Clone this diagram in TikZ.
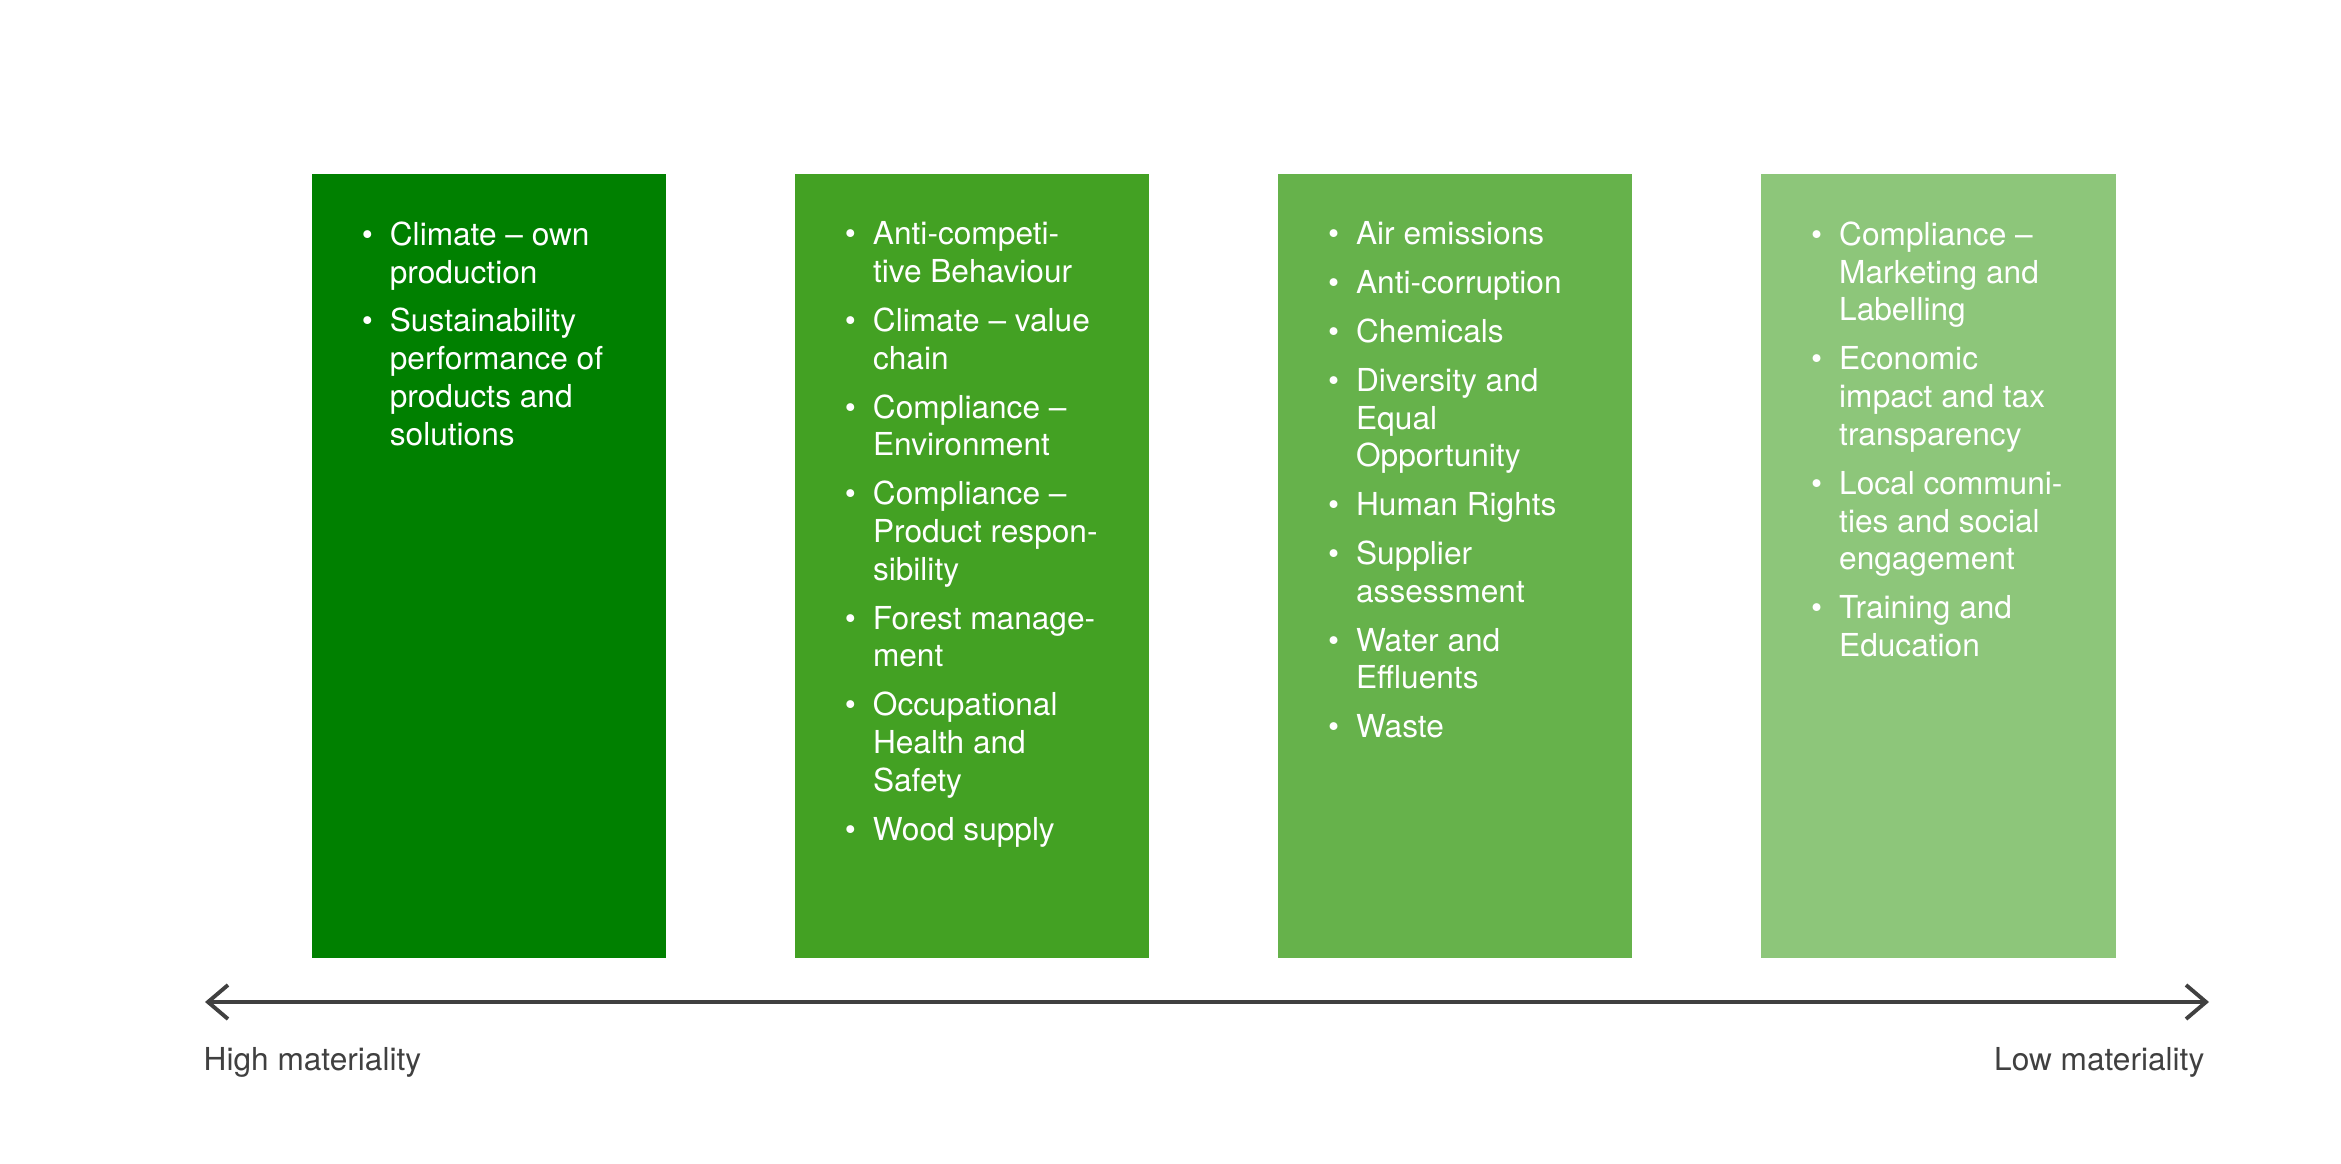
\documentclass[tikz,border=0pt]{standalone}
\usepackage{fontspec}
\setmainfont{TeX Gyre Heros}
\usepackage{tikz}
\usetikzlibrary{arrows.meta, positioning}
\definecolor{GreenA}{HTML}{008000}
\definecolor{GreenB}{HTML}{43A123}
\definecolor{GreenC}{HTML}{66B24B}
\definecolor{GreenD}{HTML}{8DC67A}
\definecolor{AxisGray}{HTML}{404040}
\newcommand{\bul}{\llap{\textbullet\hspace{0.17cm}}}

\begin{document}
\begin{tikzpicture}[
    node distance=1.286cm,
    box/.style={minimum width=3.545cm, minimum height=7.84cm, inner sep=0pt, outer sep=0pt},
    items/.style={anchor=north west, inner sep=0pt, align=left, text=white, font=\fontsize{9}{10.76}\selectfont},
    axislabel/.style={inner sep=0pt, text=AxisGray, font=\fontsize{9}{10.76}\selectfont},
    axis/.style={{Straight Barb[length=2mm, width=3.4mm]}-{Straight Barb[length=2mm, width=3.4mm]}, line width=1.1pt, draw=AxisGray}
]
    \useasboundingbox (0,0) rectangle (23.41,11.63);
    % materiality boxes
    \node[box, fill=GreenA, anchor=north west] (high) at (3.117,9.89) {};
    \node[box, fill=GreenB, right=of high] (midhigh) {};
    \node[box, fill=GreenC, right=of midhigh] (midlow) {};
    \node[box, fill=GreenD, right=of midlow] (low) {};

    \node[items, below right=0.47cm and 0.775cm of high.north west] (hightxt)
        {\bul Climate -- own\\production\\[0.11cm]
         \bul Sustainability\\performance of\\products and\\solutions};
    \node[items, below right=0.47cm and 0.775cm of midhigh.north west] (midhightxt)
        {\bul Anti-competi-\\tive Behaviour\\[0.11cm]
         \bul Climate -- value\\chain\\[0.11cm]
         \bul Compliance --\\Environment\\[0.11cm]
         \bul Compliance --\\Product respon-\\sibility\\[0.11cm]
         \bul Forest manage-\\ment\\[0.11cm]
         \bul Occupational\\Health and\\Safety\\[0.11cm]
         \bul Wood supply};
    \node[items, below right=0.47cm and 0.775cm of midlow.north west] (midlowtxt)
        {\bul Air emissions\\[0.11cm]
         \bul Anti-corruption\\[0.11cm]
         \bul Chemicals\\[0.11cm]
         \bul Diversity and\\Equal\\Opportunity\\[0.11cm]
         \bul Human Rights\\[0.11cm]
         \bul Supplier\\assessment\\[0.11cm]
         \bul Water and\\Effluents\\[0.11cm]
         \bul Waste};
    \node[items, below right=0.47cm and 0.775cm of low.north west] (lowtxt)
        {\bul Compliance --\\Marketing and\\Labelling\\[0.11cm]
         \bul Economic\\impact and tax\\transparency\\[0.11cm]
         \bul Local communi-\\ties and social\\engagement\\[0.11cm]
         \bul Training and\\Education};

    % materiality axis
    \coordinate (axleft) at (2.05,1.61);
    \coordinate (axright) at (22.09,1.61);
    \draw[axis] (axleft) -- (axright);
    \node[axislabel, anchor=base west] (hilabel) at (2.03,0.93) {High materiality};
    \node[axislabel, anchor=base east] (lolabel) at (22.05,0.93) {Low materiality};
\end{tikzpicture}
\end{document}
